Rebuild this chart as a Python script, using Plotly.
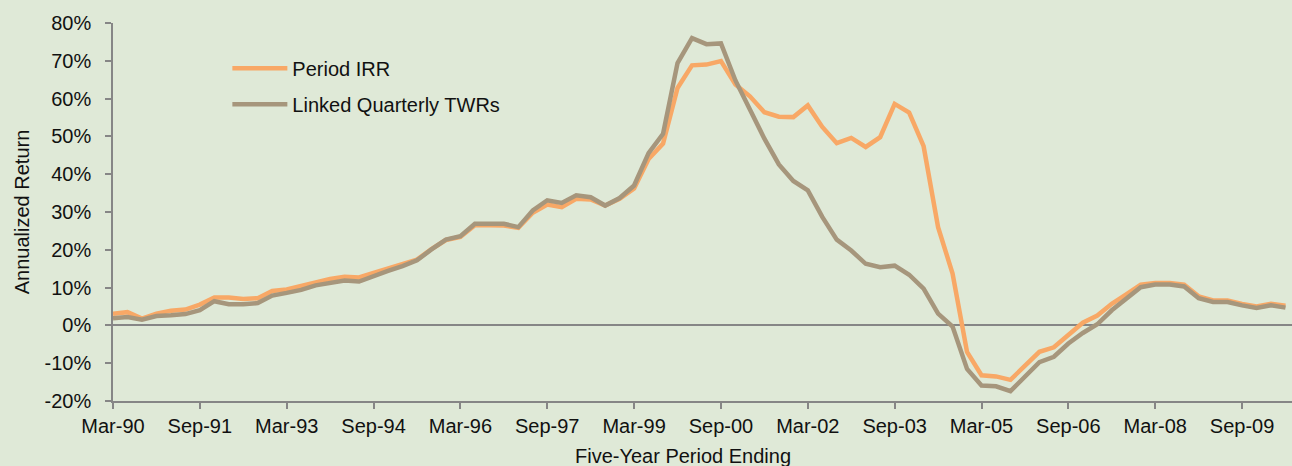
"""Gráfico de retornos anualizados a cinco años: Period IRR vs Linked Quarterly TWRs."""

import plotly.graph_objects as go

# Trimestres (fin de periodo de cinco años)
MESES = ["Mar", "Jun", "Sep", "Dec"]
trimestres = [f"{m}-{str(a)[2:]}" for a in range(1990, 2011) for m in MESES][:82]

# Valores en %
period_irr = [
    3.1, 3.5, 1.8, 3.1, 3.9, 4.2, 5.5, 7.4, 7.4, 7.0,
    7.2, 9.1, 9.5, 10.4, 11.6, 12.3, 12.9, 12.7, 13.9, 15.0,
    16.0, 17.4, 20.2, 22.6, 23.4, 26.5, 26.5, 26.4, 25.8, 29.8,
    32.0, 31.3, 33.5, 33.3, 31.7, 33.5, 36.2, 44.0, 48.1, 62.8,
    68.8, 69.0, 69.9, 63.7, 60.6, 56.4, 55.2, 55.1, 58.2, 52.5,
    48.2, 49.6, 47.2, 49.8, 58.6, 56.3, 47.4, 26.0, 13.7, -7.0,
    -13.2, -13.5, -14.4, -10.6, -7.0, -5.8, -2.6, 0.7, 2.6, 5.7,
    8.2, 10.8, 11.2, 11.2, 10.8, 7.7, 6.6, 6.6, 5.7, 5.0,
    5.7, 5.2,
]

linked_twr = [
    1.9, 2.2, 1.5, 2.5, 2.7, 3.0, 4.0, 6.4, 5.6, 5.6,
    5.9, 7.9, 8.6, 9.4, 10.6, 11.4, 11.9, 11.6, 13.1, 14.4,
    15.7, 17.2, 20.1, 22.7, 23.6, 26.9, 26.9, 26.9, 26.0, 30.4,
    33.1, 32.4, 34.4, 33.9, 31.7, 33.7, 37.0, 45.6, 50.7, 69.4,
    76.0, 74.4, 74.6, 64.8, 57.1, 49.4, 42.6, 38.2, 35.7, 28.7,
    22.7, 19.8, 16.3, 15.4, 15.8, 13.4, 9.7, 3.1, -0.3, -11.5,
    -15.9, -16.1, -17.4, -13.7, -9.7, -8.3, -4.8, -2.0, 0.3, 4.0,
    7.1, 10.1, 10.8, 10.8, 10.3, 7.2, 6.2, 6.2, 5.3, 4.6,
    5.3, 4.7,
]

ticks_y = list(range(-20, 81, 10))
etiquetas_y = [f"{v}%" for v in ticks_y]
ticks_x = trimestres[::6]

FONDO = "#DFE9D7"
GRIS = "#868686"
FUENTE = "Arial, Liberation Sans, sans-serif"

fig = go.Figure()

fig.add_trace(go.Scatter(
    x=trimestres,
    y=period_irr,
    name="Period IRR",
    mode="lines",
    line=dict(color="#F8A866", width=4.5),
    legendgroup="a",
))

fig.add_trace(go.Scatter(
    x=trimestres,
    y=linked_twr,
    name="Linked Quarterly TWRs",
    mode="lines",
    line=dict(color="#A6967C", width=4.5),
    legendgroup="b",
))

fig.update_layout(
    width=1292,
    height=466,
    margin=dict(l=113, r=0, t=23, b=65),
    paper_bgcolor=FONDO,
    plot_bgcolor=FONDO,
    font=dict(family=FUENTE, size=20, color="#111111"),
    showlegend=True,
    legend=dict(
        x=0.097, y=0.932, xanchor="left", yanchor="top",
        bgcolor="rgba(0,0,0,0)",
        font=dict(size=20),
        tracegroupgap=7,
        itemwidth=55,
    ),
    annotations=[
        dict(text="Annualized Return", textangle=-90, xref="paper", yref="paper",
             x=-0.077, y=0.5, xanchor="center", yanchor="middle",
             showarrow=False, font=dict(size=20)),
        dict(text="Five-Year Period Ending", xref="paper", yref="paper",
             x=0.4835, y=-0.145, xanchor="center", yanchor="middle",
             showarrow=False, font=dict(size=20)),
    ],
)

fig.update_xaxes(
    type="category",
    range=[0, 81.45],
    tickvals=ticks_x,
    ticktext=ticks_x,
    ticks="outside",
    ticklen=6,
    tickwidth=1.5,
    tickcolor=GRIS,
    showline=True,
    linecolor=GRIS,
    linewidth=1.5,
    showgrid=False,
    ticklabelstandoff=0,
)

fig.update_yaxes(
    range=[-20, 80],
    tickvals=ticks_y,
    ticktext=etiquetas_y,
    ticks="outside",
    ticklen=6,
    tickwidth=1.5,
    tickcolor=GRIS,
    showline=True,
    linecolor=GRIS,
    linewidth=1.5,
    showgrid=False,
    zeroline=True,
    zerolinecolor=GRIS,
    zerolinewidth=1.5,
    ticklabelstandoff=10,
)

# Quitar el margen del body para que la figura ocupe toda la ventana
fig.write_html(
    "out.html",
    config={"displayModeBar": False},
    post_script="document.body.style.margin='0';",
)
